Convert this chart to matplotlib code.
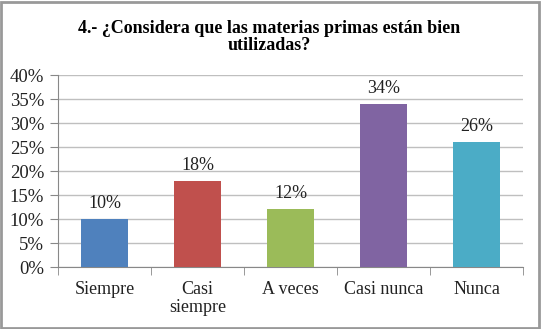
import matplotlib
matplotlib.use("Agg")
import matplotlib.pyplot as plt
from matplotlib.patches import Rectangle
from matplotlib.ticker import FixedLocator, PercentFormatter

categories = ["Siempre", "Casi\nsiempre", "A veces", "Casi nunca", "Nunca"]
values = [10, 18, 12, 34, 26]
colors = ["#4F81BD", "#C0504D", "#9BBB59", "#8064A2", "#4BACC6"]
title = "4.- ¿Considera que las materias primas están bien\nutilizadas?"

plt.rcParams['font.family'] = ['Liberation Serif', 'DejaVu Serif']

fig = plt.figure(figsize=(5.42, 3.29), dpi=100)
ax = fig.add_axes([58/542, 1-267/329, (523-58)/542, (267-75)/329])

x = list(range(len(categories)))
bars = ax.bar(x, values, width=0.5, color=colors, zorder=3)
for xi, v in zip(x, values):
    ax.annotate(f"{v}%", (xi, v), xytext=(0, 5), textcoords="offset points",
                ha="center", va="bottom", fontsize=13, color="#222222")

ax.set_xlim(-0.5, len(categories) - 0.5)
ax.set_ylim(0, 40)
ax.set_yticks(range(0, 41, 5))
ax.yaxis.set_major_formatter(PercentFormatter(decimals=0))
ax.grid(axis="y", color="#BFBFBF", linewidth=1, zorder=0)
ax.set_xticks(x)
ax.set_xticklabels(categories, fontsize=13, linespacing=1.1, color="#222222")
ax.xaxis.set_minor_locator(FixedLocator([i - 0.5 for i in range(len(categories) + 1)]))
ax.tick_params(axis="x", which="major", length=0, pad=10)
ax.tick_params(axis="x", which="minor", length=6, color="#888888")
ax.tick_params(axis="y", length=6, color="#888888", labelsize=13.5, pad=4,
               labelcolor="#222222")
for s in ["top", "right"]:
    ax.spines[s].set_visible(False)
for s in ["left", "bottom"]:
    ax.spines[s].set_color("#888888")

fig.text(269/542, 1-37/329, title, ha="center", va="center", fontsize=13,
         fontweight="bold", linespacing=1.0)

fig.patches.append(Rectangle((0.002, 0.003), 0.993, 0.992, transform=fig.transFigure,
                             fill=False, edgecolor="#999999", linewidth=2))

fig.savefig("out.png", dpi=100)
